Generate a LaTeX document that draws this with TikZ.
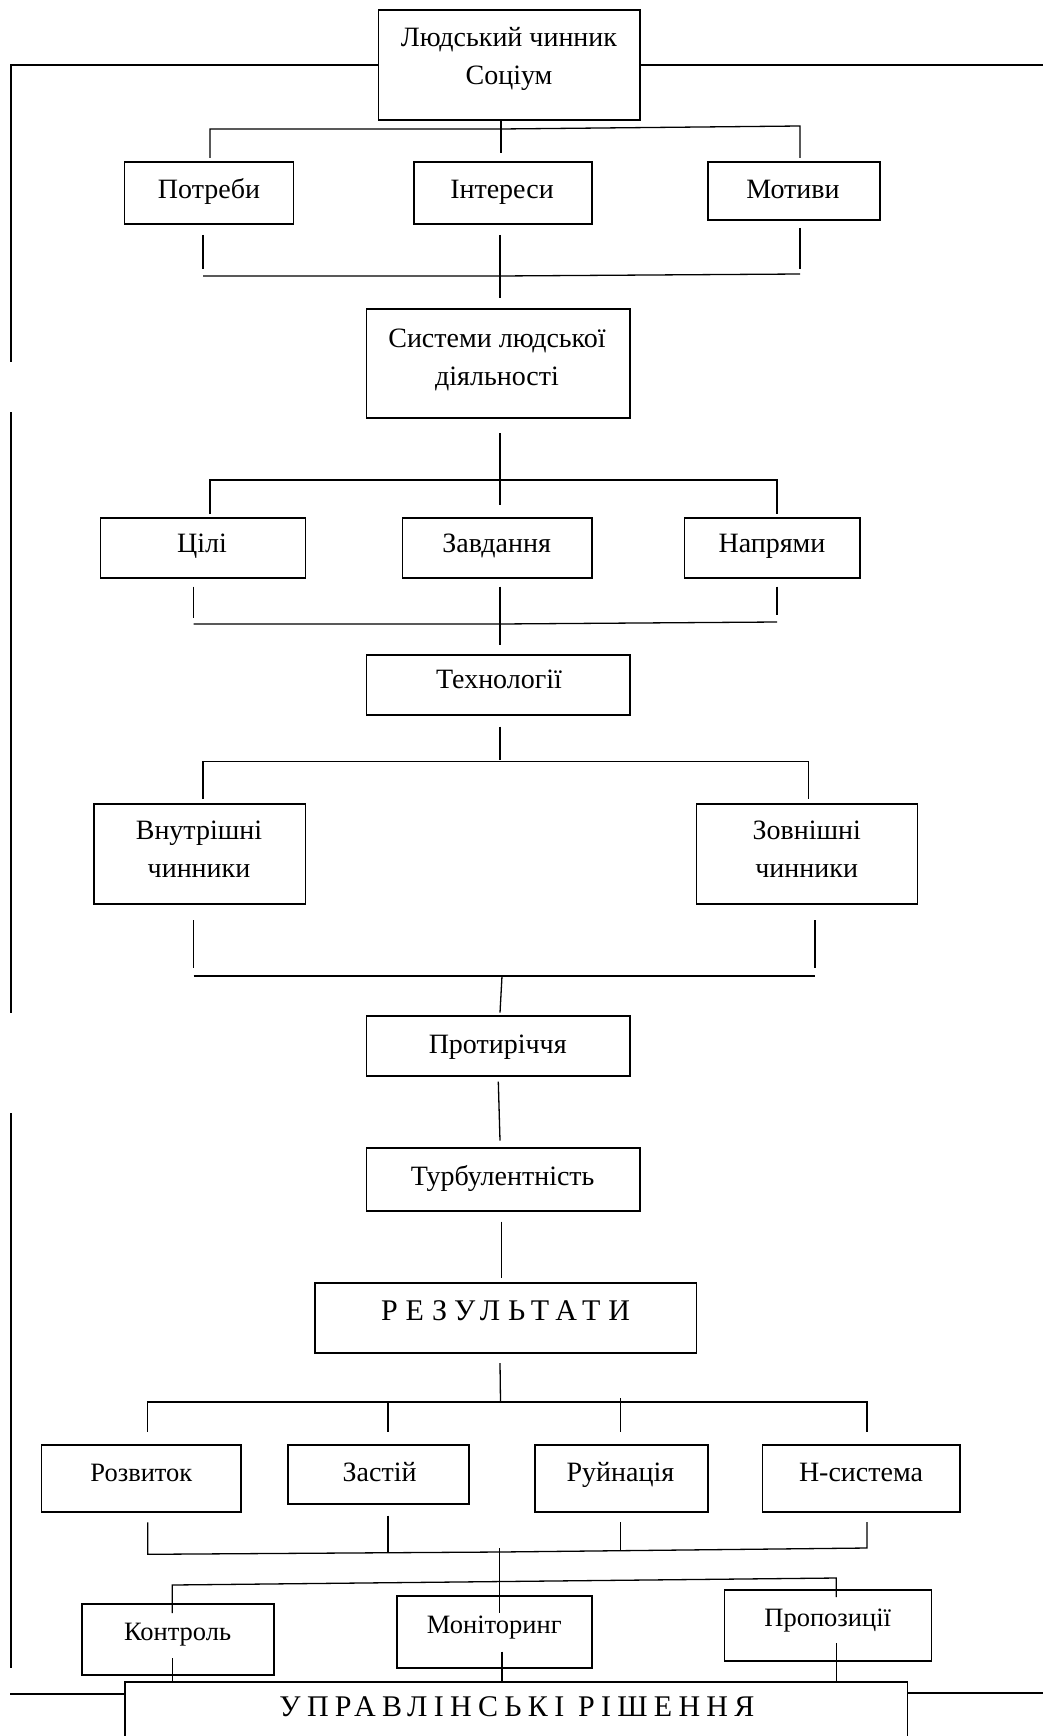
\documentclass[tikz,border=0pt]{standalone}
\usepackage{fontspec}
\setmainfont{Liberation Serif}
\newfontfamily\rezfont[LetterSpace=26]{Liberation Serif}
\newfontfamily\uprfont[LetterSpace=21]{Liberation Serif}
\newcommand{\mkbox}[5]{\node[box, minimum width={(#4)-(#2)}, minimum height={(#5)-(#3)}] (#1) at ({((#2)+(#4))/2},{((#3)+(#5))/2}) {};}
\begin{document}
\begin{tikzpicture}[x=1pt,y=-1pt,
  box/.style={draw, line width=1.6pt, inner sep=0pt},
  conn/.style={line width=1.3pt},
  txt/.style={anchor=base, inner sep=0pt, font=\fontsize{28}{38}\selectfont, align=center},
  small/.style={font=\fontsize{26.5}{34}\selectfont},
  rezst/.style={font=\rezfont\fontsize{30}{38}\selectfont},
  uprst/.style={font=\uprfont\fontsize{30}{38}\selectfont}]
\useasboundingbox (0,0) rectangle (1043,1736);
\clip (0,0) rectangle (1043,1736);
% boxes
\mkbox{top}{378.6}{10}{640}{120}
\mkbox{pot}{124.4}{162}{293.4}{224}
\mkbox{int}{414}{162}{592}{224}
\mkbox{mot}{708}{162}{880}{220}
\mkbox{sys}{366.6}{309}{630}{418}
\mkbox{cil}{100.5}{518}{305.4}{578}
\mkbox{zav}{402.5}{518}{592}{578}
\mkbox{nap}{684.6}{518}{860}{578}
\mkbox{tech}{366.6}{655}{630}{715}
\mkbox{vnu}{93.8}{804}{305.4}{904}
\mkbox{zov}{696.6}{804}{917.5}{904}
\mkbox{prot}{366.6}{1015.7}{630}{1075.7}
\mkbox{turb}{366.6}{1148}{640}{1211}
\mkbox{rez}{314.7}{1283}{696.6}{1353}
\mkbox{roz}{41.3}{1445}{240.9}{1512}
\mkbox{zas}{288}{1445}{469}{1504}
\mkbox{ruy}{535}{1445}{708}{1512}
\mkbox{nsys}{762.5}{1445}{960}{1512}
\mkbox{kon}{81.8}{1604}{274}{1675}
\mkbox{mon}{397.2}{1596}{592}{1668}
\mkbox{pro}{724.5}{1590}{931.5}{1661}
\mkbox{upr}{125}{1682}{907.5}{1800}
% texts
\node[txt] (top-t) at (509,85) {Людський чинник\\Соціум};
\node[txt] (pot-t) at (209,199) {Потреби};
\node[txt] (int-t) at (502,199) {Інтереси};
\node[txt] (mot-t) at (793,199) {Мотиви};
\node[txt] (sys-t) at (497,385) {Системи людської\\діяльності};
\node[txt] (cil-t) at (202,552) {Цілі};
\node[txt] (zav-t) at (496.7,552) {Завдання};
\node[txt] (nap-t) at (772,552) {Напрями};
\node[txt] (tech-t) at (499,688) {Технології};
\node[txt] (vnu-t) at (199,877) {Внутрішні\\чинники};
\node[txt] (zov-t) at (806.7,877) {Зовнішні\\чинники};
\node[txt] (prot-t) at (497.7,1053) {Протиріччя};
\node[txt] (turb-t) at (502.7,1185) {Турбулентність};
\node[txt, rezst] (rez-t) at (505.6,1320.7) {РЕЗУЛЬТАТИ};
\node[txt, small] (roz-t) at (141.4,1481.7) {Розвиток};
\node[txt] (zas-t) at (379.6,1481.7) {Застій};
\node[txt] (ruy-t) at (620.4,1481.7) {Руйнація};
\node[txt] (nsys-t) at (861,1481.7) {Н-система};
\node[txt, small] (kon-t) at (177.6,1640) {Контроль};
\node[txt, small] (mon-t) at (494.3,1633) {Моніторинг};
\node[txt, small] (pro-t) at (827.7,1626) {Пропозиції};
\node[txt, uprst] (upr-t) at (517,1716) {УПРАВЛІНСЬКІ РІШЕННЯ};
% outer frame lines
\coordinate (L1) at (11,362);
\draw[conn] (top.west) -| (L1);
\draw[conn] (top.east) -- (1043,65);
\coordinate (L2a) at (11,412); \coordinate (L2b) at (11,1013);
\draw[conn] (L2a) -- (L2b);
\coordinate (L3a) at (11,1113); \coordinate (L3b) at (11,1668);
\draw[conn] (L3a) -- (L3b);
\coordinate (L4) at (10,1694);
\draw[conn] (L4) -- (upr.west |- L4);
\coordinate (R4) at (1043,1693);
\draw[conn] (upr.east |- R4) -- (R4);
% level 1
\draw[conn] (501,120) -- (501,153);
\draw[conn] (210,158) -- (210,129) -- (501,129) -- (800,126) -- (800,158);
\draw[conn] (203,235) -- (203,269);
\draw[conn] (800,228) -- (800,269);
\draw[conn] (500,235) -- (500,298);
\draw[conn] (203,276) -- (500,276) -- (800,274);
% level 2
\draw[conn] (500,433) -- (500,505);
\draw[conn] (210,514) -- (210,480) -- (777,480) -- (777,514);
\draw[conn] (193.6,586.7) -- (193.6,617.7);
\draw[conn] (777,586.7) -- (777,615);
\draw[conn] (500,586.7) -- (500,645);
\draw[conn] (193.6,624) -- (500,624) -- (777,622);
% level 3
\draw[conn] (500,726.7) -- (500,760);
\draw[conn] (203,799) -- (203,761.7) -- (808.4,761.7) -- (808.4,799);
\draw[conn] (193.6,920) -- (193.6,967.7);
\draw[conn] (815,920) -- (815,967.7);
\draw[conn] (193.6,976) -- (815,976);
\draw[conn] (502,976) -- (500,1012.7);
\draw[conn] (prot.south |- 0,1081.7) -- (500,1140.7);
\draw[conn] (501.7,1221.7) -- (501.7,1278.3);
% level 4
\draw[conn] (500,1363) -- (500.5,1401.7);
\draw[conn] (147.7,1431.7) -- (147.7,1402) -- (867,1402) -- (867,1431.7);
\draw[conn] (388,1402) -- (388,1431.7);
\draw[conn] (620.8,1398) -- (620.8,1431.7);
\draw[conn] (147.7,1522.3) -- (147.7,1554.3) -- (500,1552) -- (867,1548) -- (867,1522);
\draw[conn] (388,1515.7) -- (388,1553);
\draw[conn] (620.8,1522) -- (620.8,1551);
\draw[conn] (499.7,1548) -- (499.7,1613);
\draw[conn] (172.3,1613) -- (172.3,1585) -- (836.3,1578) -- (836.3,1597);
\draw[conn] (172.3,1658) -- (172.3,1682);
\draw[conn] (502,1651.7) -- (502,1682);
\draw[conn] (836.3,1643) -- (836.3,1682);
\end{tikzpicture}
\end{document}
